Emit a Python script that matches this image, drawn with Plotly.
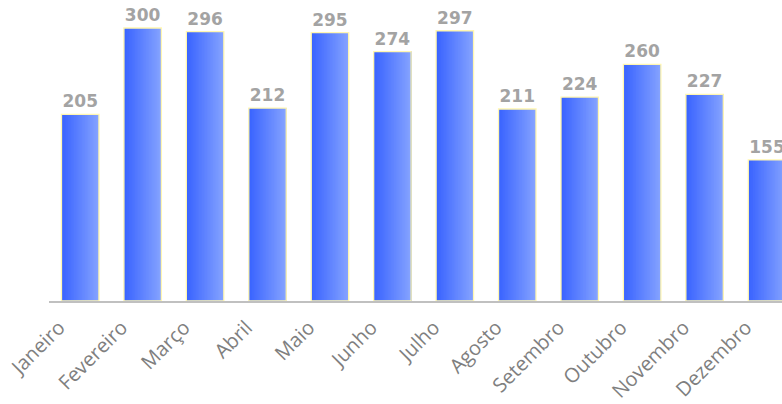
import plotly.graph_objects as go

meses = ["Janeiro", "Fevereiro", "Março", "Abril", "Maio", "Junho",
         "Julho", "Agosto", "Setembro", "Outubro", "Novembro", "Dezembro"]
valores = [205, 300, 296, 212, 295, 274, 297, 211, 224, 260, 227, 155]

BAR_W = 0.6
N_SLICES = 24
COR_ESQ = (58, 100, 255)
COR_DIR = (132, 162, 255)


def mix(t):
    r, g, b = (round(a + (c - a) * t) for a, c in zip(COR_ESQ, COR_DIR))
    return f"rgb({r},{g},{b})"


fig = go.Figure()

# horizontal gradient: each slice runs to the bar's right edge and the next
# one is drawn on top of it, so no gaps show between the colour steps
slice_w = BAR_W / N_SLICES
for i in range(N_SLICES):
    fig.add_trace(go.Bar(
        x=meses, y=valores,
        width=BAR_W - i * slice_w,
        offset=-BAR_W / 2 + i * slice_w,
        marker=dict(color=mix(i / (N_SLICES - 1)), line=dict(width=0)),
        hoverinfo="skip", showlegend=False,
    ))

# outline and value labels
fig.add_trace(go.Bar(
    x=meses, y=valores, width=BAR_W,
    marker=dict(color="rgba(0,0,0,0)", line=dict(color="#fff6b0", width=1.3)),
    text=[str(v) for v in valores], textposition="outside",
    textfont=dict(family="DejaVu Sans", size=17, color="#a3a3a3", weight="bold"),
    cliponaxis=True, showlegend=False,
))

fig.update_layout(
    width=782, height=404,
    margin=dict(l=49, r=0, t=8, b=103),
    plot_bgcolor="white", paper_bgcolor="white",
    barmode="overlay",
    xaxis=dict(
        range=[-0.5, 11.24], tickangle=-45, automargin=False,
        tickfont=dict(family="Open Sans", size=20, color="#7f7f7f"),
        ticklabelstandoff=5, ticklabelshift=-21,
        showline=True, linecolor="#c0c0c0", linewidth=2,
        showgrid=False, ticks="",
    ),
    yaxis=dict(range=[0, 322], visible=False, showgrid=False, automargin=False),
)

fig.write_html("out.html")
